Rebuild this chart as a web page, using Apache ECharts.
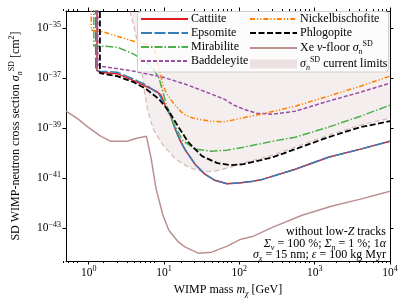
<!DOCTYPE html>
<html><head><meta charset="utf-8">
<script src="https://cdn.jsdelivr.net/npm/echarts@6/dist/echarts.min.js"></script>
<style>html,body{margin:0;padding:0;background:#fff}#c{width:407px;height:305px}</style>
</head><body><div id="c"></div>
<script>
// axis ranges and tick labels
const xRange = [0.5, 1e4];
const yRange = [5e-45, 5e-35];
const xMajor = [1, 10, 100, 1000, 10000];
const yMajor = [1e-43, 1e-41, 1e-39, 1e-37, 1e-35];
const TOP = 1e-34; // above the frame: vertical threshold lines run off the top

// Cattiite (red)
const cattiiteM = [1.29, 1.29, 1.40, 2.39, 3.96, 5.84, 7.86, 9.12, 10.6, 12.3, 14.3, 16.5, 19.2, 25.8, 34.8, 46.9, 69, 105, 154, 207, 553, 1521, 4057, 1e4];
const cattiiteS = [TOP, 2.05e-37, 1.79e-37, 1.56e-37, 8.2e-38, 4.7e-38, 3.1e-38, 2.15e-38, 7.1e-39, 3.08e-39, 8.55e-40, 3.1e-40, 1.36e-40, 3.73e-41, 1.49e-41, 8.55e-42, 6.2e-42, 6.8e-42, 7.8e-42, 9.4e-42, 2.35e-41, 7.1e-41, 1.49e-40, 3.1e-40];
// Epsomite (blue)
const epsomiteM = [1.24, 1.24, 1.40, 2.39, 3.96, 5.84, 8.59, 10.6, 12.3, 14.3, 16.5, 19.2, 25.8, 34.8, 46.9, 69, 105, 154, 207, 553, 1521, 4057, 1e4];
const epsomiteS = [TOP, 2.21e-37, 1.96e-37, 1.79e-37, 9.4e-38, 5.4e-38, 2.35e-38, 7.1e-39, 3.08e-39, 8.55e-40, 3.1e-40, 1.36e-40, 3.73e-41, 1.49e-41, 8.55e-42, 6.2e-42, 6.8e-42, 7.8e-42, 9.4e-42, 2.35e-41, 7.1e-41, 1.49e-40, 3.1e-40];
// Mirabilite (green)
const mirabiliteM = [1.17, 1.17, 1.53, 2.39, 3.96, 5.84, 7.41, 8.59, 9.68, 10.6, 13.0, 17.5, 25.8, 42.9, 69, 114, 279, 553, 1521, 4057, 1e4];
const mirabiliteS = [TOP, 2.01e-36, 1.96e-36, 1.79e-36, 9.4e-37, 4.49e-37, 2.15e-37, 1.03e-37, 2.83e-38, 1.03e-38, 1.96e-39, 3.4e-40, 1.49e-40, 1.24e-40, 1.36e-40, 1.79e-40, 3.1e-40, 4.49e-40, 1.13e-39, 3.1e-39, 8.55e-39];
// Baddeleyite (purple)
const baddeleyiteM = [1.32, 1.32, 1.44, 3.96, 9.68, 19.2, 42.9, 63, 84.9, 114, 168, 279, 553, 1521, 4057, 1e4];
const baddeleyiteS = [TOP, 3.5e-37, 3.1e-37, 1.96e-37, 1.13e-37, 5.9e-38, 2.35e-38, 1.49e-38, 8.55e-39, 5.9e-39, 4.09e-39, 3.73e-39, 4.92e-39, 1.24e-38, 2.83e-38, 6.5e-38];
// Nickelbischofite (orange)
const nickelM = [1.08, 1.08, 1.44, 2.39, 3.96, 5.84, 7.19, 7.86, 8.59, 9.68, 10.6, 13.0, 16.5, 19.2, 25.8, 42.9, 63, 114, 207, 553, 1521, 4057, 1e4];
const nickelS = [TOP, 8.55e-36, 7.8e-36, 4.92e-36, 3.1e-36, 2.35e-36, 1.96e-36, 8.55e-37, 2.58e-37, 5.4e-38, 2.83e-38, 1.13e-38, 4.92e-39, 3.4e-39, 2.47e-39, 1.91e-39, 1.84e-39, 2.7e-39, 3.91e-39, 7.8e-39, 1.96e-38, 4.92e-38, 1.24e-37];
// Phlogopite (black)
const phlogopiteM = [1.41, 1.41, 2.39, 3.96, 5.84, 8.59, 11.6, 15.6, 21, 32, 51.3, 77.6, 114, 279, 553, 1521, 4057, 1e4];
const phlogopiteS = [TOP, 1.63e-37, 1.24e-37, 7.1e-38, 3.73e-38, 1.49e-38, 4.92e-39, 1.13e-39, 2.83e-40, 7.8e-41, 4.09e-41, 3.4e-41, 3.73e-41, 7.1e-41, 1.49e-40, 4.49e-40, 1.13e-39, 1.96e-39];
// Xe neutrino floor
const floorM = [0.5, 0.727, 0.98, 1.44, 1.94, 3.22, 4.33, 5.84, 6.2, 6.77, 7.86, 9.68, 11.6, 15.6, 19.2, 28.4, 42.9, 69, 105, 154, 279, 681, 1663, 4057, 1e4];
const floorS = [4.92e-39, 2.35e-39, 1.13e-39, 4.92e-40, 3.1e-40, 3.1e-40, 4.09e-40, 4.92e-40, 4.49e-40, 5.9e-41, 3.73e-42, 3.4e-43, 8.55e-44, 2.83e-44, 1.79e-44, 1.03e-44, 1.13e-44, 1.96e-44, 3.73e-44, 4.92e-44, 1.13e-43, 3.4e-43, 7.8e-43, 1.49e-42, 3.1e-42];
// current limits (lower boundary of excluded region)
const limitsM = [3.52, 4.08, 4.60, 5.03, 5.50, 6.01, 7.19, 9.68, 14.3, 21, 32, 46.9, 77.6, 125, 279, 553, 1521, 4057, 1e4];
const limitsS = [5e-35, 9.4e-36, 1.49e-36, 2.35e-37, 3.1e-38, 5.9e-39, 9.4e-40, 2.15e-40, 5.9e-41, 2.83e-41, 1.87e-41, 1.96e-41, 2.83e-41, 4.49e-41, 8.55e-41, 1.79e-40, 5.4e-40, 1.36e-39, 2.58e-39];

const L = Math.log10;
const pts = (m, s) => m.map((v, i) => [L(v), L(s[i])]);
const F = '"Liberation Serif", "DejaVu Serif", serif';
const xMinor = [];
for (let n = -1; n < 4; n++) for (let k = 2; k <= 9; k++) { const v = k * Math.pow(10, n); if (v > xRange[0] && v < xRange[1]) xMinor.push(L(v)); }

const rich = {
  b: {fontFamily: F, fontSize: 11.5, lineHeight: 16, color: '#000'},
  s: {fontFamily: F, fontSize: 8, lineHeight: 9, verticalAlign: 'top', color: '#000'},
  i: {fontFamily: F, fontStyle: 'italic', fontSize: 12, lineHeight: 16, color: '#000'},
  sub: {fontFamily: F, fontStyle: 'italic', fontSize: 8, lineHeight: 9, verticalAlign: 'bottom', color: '#000'},
  sup: {fontFamily: F, fontSize: 8, lineHeight: 9, verticalAlign: 'top', color: '#000'},
  t: {fontFamily: F, fontSize: 12, lineHeight: 16, color: '#000'}
};
const pow = v => '{b|10}{s|' + (v < 0 ? '\u2212' : '') + Math.abs(Math.round(v)) + '}';

const xBase = {type: 'value', min: L(xRange[0]), max: L(xRange[1]), splitLine: {show: false}};
const yBase = {type: 'value', min: L(yRange[0]), max: L(yRange[1]), splitLine: {show: false}};
const axLine = {show: true, onZero: false, lineStyle: {color: '#000', width: 1}};

const lineSeries = (name, m, s, color, type, width, z) => ({
  name, type: 'line', data: pts(m, s), symbol: 'none', showSymbol: false, clip: true, z: z || 3,
  lineStyle: {color, type, width}, itemStyle: {color}, animation: false
});

const names = {
  'Xe floor': 'Xe {i|\u03bd}-floor {i|\u03c3}{sub|n}{sup|SD}',
  'limits': '{i|\u03c3}{sub|n}{sup|SD} current limits'
};
const li = n => ({name: n, itemStyle: {opacity: 0, color: 'rgba(0,0,0,0)', borderWidth: 0}});

const chart = echarts.init(document.getElementById('c'), null, {renderer: 'canvas'});
chart.setOption({
  animation: false,
  backgroundColor: '#fff',
  grid: [{left: 57, right: 17, top: 11, bottom: 44}, {left: 57, right: 17, top: 11, bottom: 44}],
  xAxis: [
    Object.assign({}, xBase, {gridIndex: 0, position: 'bottom', axisLine: axLine,
      axisTick: {show: true, customValues: xMajor.map(L), length: 3.5, lineStyle: {color: '#000'}},
      axisLabel: {show: true, customValues: xMajor.map(L), formatter: pow, rich, margin: 4},
      name: 'WIMP mass {i|m}{sub|\u03c7} [GeV]', nameLocation: 'middle', nameGap: 21,
      nameTextStyle: {fontFamily: F, fontSize: 12, color: '#000', rich}}),
    Object.assign({}, xBase, {gridIndex: 0, position: 'top', axisLine: axLine,
      axisTick: {show: true, customValues: xMajor.map(L), length: 3.5, lineStyle: {color: '#000'}},
      axisLabel: {show: false}}),
    Object.assign({}, xBase, {gridIndex: 1, position: 'bottom', axisLine: {show: false},
      axisTick: {show: true, customValues: xMinor, length: 2, lineStyle: {color: '#000'}}, axisLabel: {show: false}}),
    Object.assign({}, xBase, {gridIndex: 1, position: 'top', axisLine: {show: false},
      axisTick: {show: true, customValues: xMinor, length: 2, lineStyle: {color: '#000'}}, axisLabel: {show: false}})
  ],
  yAxis: [
    Object.assign({}, yBase, {gridIndex: 0, position: 'left', axisLine: axLine,
      axisTick: {show: true, customValues: yMajor.map(L), length: 3.5, lineStyle: {color: '#000'}},
      axisLabel: {show: true, customValues: yMajor.map(L), formatter: pow, rich, margin: 5},
      name: 'SD WIMP-neutron cross section {i|\u03c3}{sub|n}{sup|SD} [cm{sup|2}]', nameLocation: 'middle', nameGap: 42,
      nameRotate: 90, nameTextStyle: {fontFamily: F, fontSize: 12, color: '#000', rich}}),
    Object.assign({}, yBase, {gridIndex: 0, position: 'right', axisLine: axLine,
      axisTick: {show: true, customValues: yMajor.map(L), length: 3.5, lineStyle: {color: '#000'}},
      axisLabel: {show: false}}),
    Object.assign({}, yBase, {gridIndex: 1, show: false})
  ],
  legend: [
    {data: ['Cattiite', 'Epsomite', 'Mirabilite', 'Baddeleyite'].map(li), left: 140, top: 12, orient: 'vertical',
     itemWidth: 47, itemHeight: 9, itemGap: 0, padding: 0, z: 6,
     textStyle: {fontFamily: F, fontSize: 12, lineHeight: 14, color: '#000', padding: [0, 0, 0, -2]}},
    {data: ['Nickelbischofite', 'Phlogopite', 'Xe floor'].map(li).concat(
            [{name: 'limits', icon: 'rect', itemStyle: {opacity: 1, color: 'rgba(188,143,143,0.25)', borderWidth: 0}}]),
     left: 249, top: 12, orient: 'vertical', itemWidth: 47, itemHeight: 9, itemGap: 0, padding: 0, z: 6,
     formatter: n => names[n] || n,
     textStyle: {fontFamily: F, fontSize: 12, lineHeight: 14, color: '#000', padding: [0, 0, 0, -2], rich}}
  ],
  graphic: [
    {type: 'rect', z: 5, shape: {x: 137.5, y: 11.5, width: 251, height: 60.5, r: 3},
     style: {fill: 'rgba(255,255,255,0.8)', stroke: '#d0d0d0', lineWidth: 1}},
    {type: 'text', z: 5, x: 386, y: 232, style: {text: 'without low-{i|Z} tracks', align: 'right', verticalAlign: 'middle', font: '12px ' + F, rich}},
    {type: 'text', z: 5, x: 386, y: 243.5, style: {text: '{i|\u03a3}{sub|\u03bd}{t| = 100 %; }{i|\u03a3}{sub|n}{t| = 1 %; 1}{i|\u03b1}', align: 'right', verticalAlign: 'middle', font: '12px ' + F, rich}},
    {type: 'text', z: 5, x: 386, y: 255, style: {text: '{i|\u03c3}{sub|x}{t| = 15 nm; }{i|\u03b5}{t| = 100 kg Myr}', align: 'right', verticalAlign: 'middle', font: '12px ' + F, rich}}
  ],
  series: [
    Object.assign(lineSeries('limits', limitsM, limitsS, 'rgba(188,143,143,0.6)', [5, 3], 1.2, 1),
      {areaStyle: {origin: 'end', color: 'rgba(188,143,143,0.22)'}}),
    lineSeries('Cattiite', cattiiteM, cattiiteS, '#e41a1c', 'solid', 1.5),
    lineSeries('Epsomite', epsomiteM, epsomiteS, '#377eb8', [11, 2.5], 1.5),
    lineSeries('Mirabilite', mirabiliteM, mirabiliteS, '#4daf4a', [8, 2, 1.5, 2], 1.5),
    lineSeries('Baddeleyite', baddeleyiteM, baddeleyiteS, '#984ea3', [4, 2], 1.5),
    lineSeries('Nickelbischofite', nickelM, nickelS, '#ff7f00', [5, 2, 1.2, 2, 1.2, 2], 1.5),
    lineSeries('Phlogopite', phlogopiteM, phlogopiteS, '#000000', [6, 2.5], 1.8),
    lineSeries('Xe floor', floorM, floorS, '#bc8f8f', 'solid', 1.5)
  ]
});
</script></body></html>
